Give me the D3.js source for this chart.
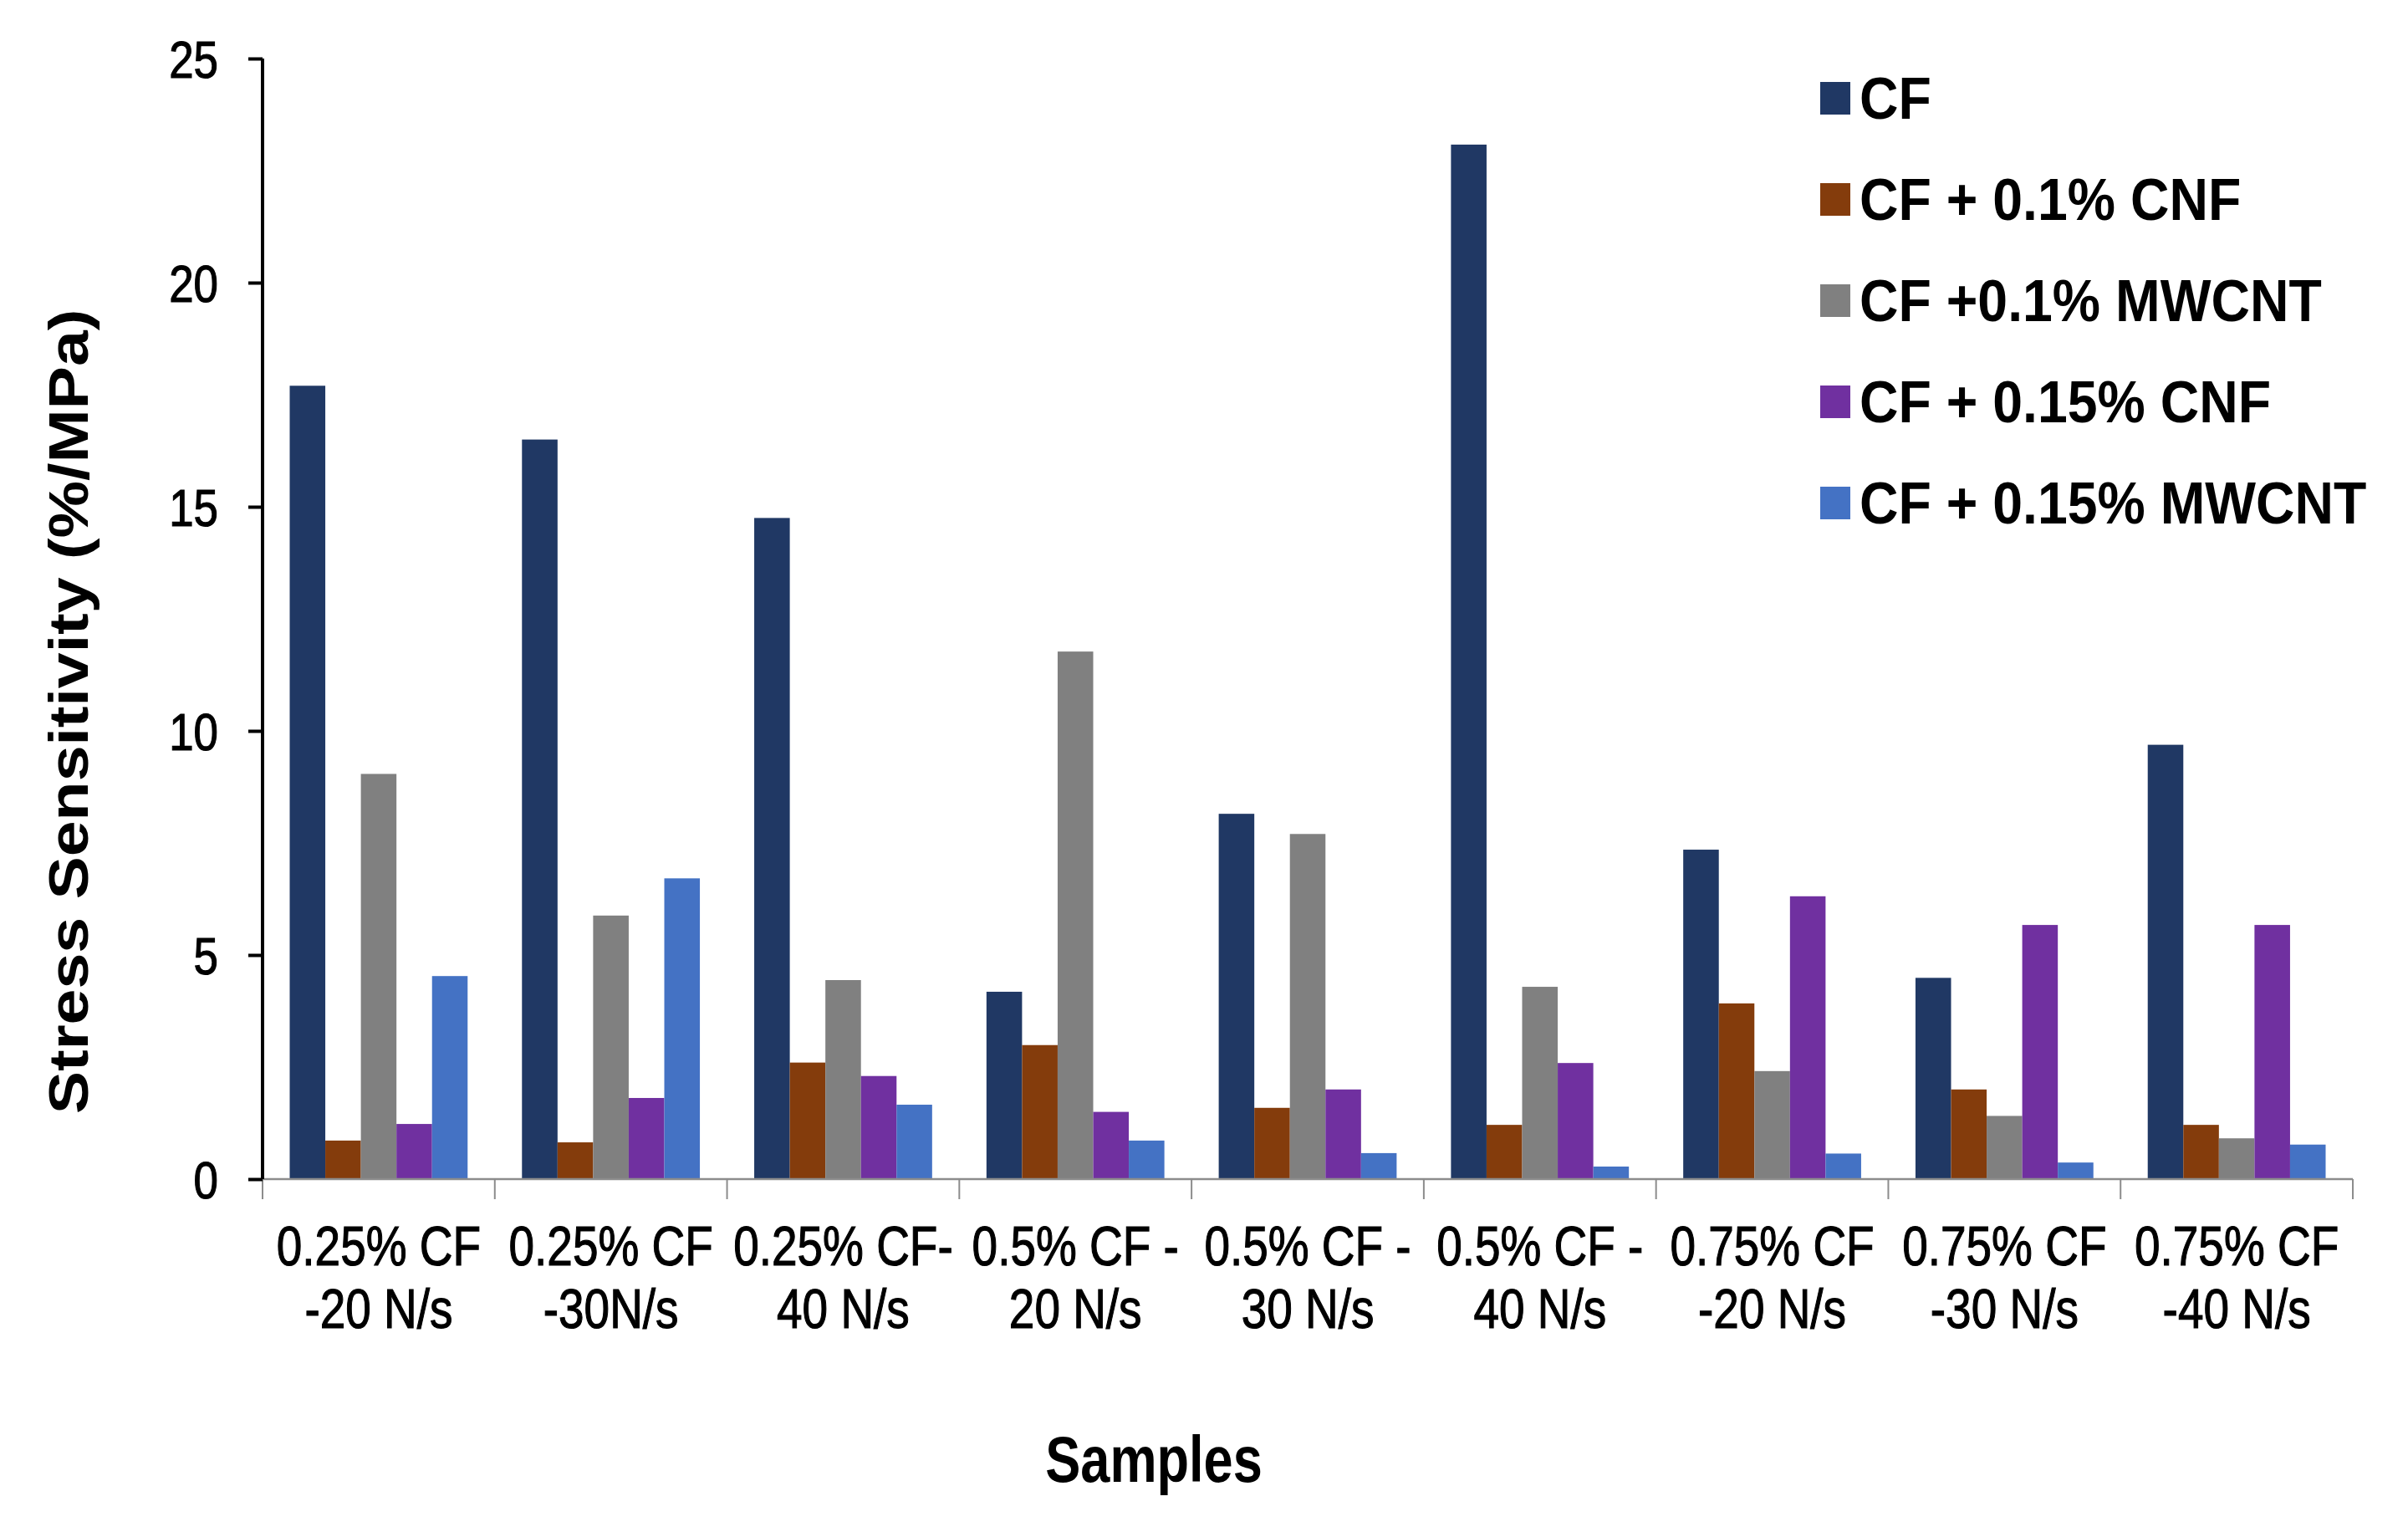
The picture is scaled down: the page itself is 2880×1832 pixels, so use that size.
<!DOCTYPE html>
<html>
<head>
<meta charset="utf-8">
<script src="https://cdn.jsdelivr.net/npm/d3@7"></script>
<style>
html,body{margin:0;padding:0;background:#fff;}
svg{display:block;}
text{font-family:"Liberation Sans",Arial,sans-serif;fill:#000;}
</style>
</head>
<body>
<svg id="chart" width="2880" height="1832"></svg>
<script>
const categories = [
  ["0.25% CF", "-20 N/s"],
  ["0.25% CF", "-30N/s"],
  ["0.25% CF-", "40 N/s"],
  ["0.5% CF -", "20 N/s"],
  ["0.5% CF -", "30 N/s"],
  ["0.5% CF -", "40 N/s"],
  ["0.75% CF", "-20 N/s"],
  ["0.75% CF", "-30 N/s"],
  ["0.75% CF", "-40 N/s"]
];
const seriesNames = ["CF", "CF + 0.1% CNF", "CF +0.1% MWCNT", "CF + 0.15% CNF", "CF + 0.15% MWCNT"];
const seriesColors = ["#203864", "#843C0C", "#808080", "#7030A0", "#4472C4"];
const cfValues       = [17.7, 16.5, 14.75, 4.18, 8.15, 23.08, 7.35, 4.49, 9.69];
const cnf01Values    = [0.86, 0.82, 2.6, 2.99, 1.59, 1.21, 3.92, 2.0, 1.21];
const mwcnt01Values  = [9.04, 5.88, 4.44, 11.77, 7.7, 4.29, 2.41, 1.41, 0.91];
const cnf015Values   = [1.23, 1.81, 2.3, 1.5, 2.0, 2.59, 6.31, 5.67, 5.67];
const mwcnt015Values = [4.53, 6.71, 1.66, 0.86, 0.58, 0.28, 0.57, 0.37, 0.77];
const yTicks = [0, 5, 10, 15, 20, 25];
const yTitle = "Stress Sensitivity (%/MPa)";
const xTitle = "Samples";

const seriesValues = [cfValues, cnf01Values, mwcnt01Values, cnf015Values, mwcnt015Values];

const svg = d3.select("#chart");
const plotLeft = 314, plotRight = 2814, plotTop = 70, plotBottom = 1410;

const x0 = d3.scaleBand().domain(d3.range(categories.length)).range([plotLeft, plotRight])
  .paddingInner(0.234).paddingOuter(0.117);
const x1 = d3.scaleBand().domain(d3.range(seriesNames.length)).range([0, x0.bandwidth()]).padding(0);
const y = d3.scaleLinear().domain([0, 25]).range([plotBottom, plotTop]);

// bars
const groups = svg.append("g").selectAll("g").data(categories).join("g")
  .attr("transform", (d, i) => `translate(${x0(i)},0)`);
groups.selectAll("rect")
  .data((d, i) => seriesValues.map((vals, s) => ({s, v: vals[i]})))
  .join("rect")
  .attr("x", d => x1(d.s))
  .attr("width", x1.bandwidth())
  .attr("y", d => y(d.v))
  .attr("height", d => y(0) - y(d.v))
  .attr("fill", d => seriesColors[d.s]);

// x axis line and boundary ticks
const xAxisG = svg.append("g");
xAxisG.append("line").attr("x1", plotLeft).attr("x2", plotRight).attr("y1", plotBottom).attr("y2", plotBottom)
  .attr("stroke", "#8c8c8c").attr("stroke-width", 2.5);
const bounds = d3.range(categories.length + 1).map(i => plotLeft + i * x0.step());
xAxisG.selectAll("line.b").data(bounds).join("line").attr("class", "b")
  .attr("x1", d => d).attr("x2", d => d).attr("y1", plotBottom).attr("y2", plotBottom + 24)
  .attr("stroke", "#8c8c8c").attr("stroke-width", 2);

// x labels
const labG = svg.append("g");
categories.forEach((c, i) => {
  const cx = x0(i) + x0.bandwidth() / 2;
  c.forEach((line, k) => {
    labG.append("text")
      .attr("transform", `translate(${cx},${1513 + k * 75}) scale(0.82,1)`)
      .attr("text-anchor", "middle")
      .attr("font-size", 67)
      .attr("stroke", "#000").attr("stroke-width", 1.2)
      .text(line);
  });
});

// y axis
const yAxis = d3.axisLeft(y).tickValues(yTicks).tickSize(17).tickPadding(0).tickFormat(d3.format("d"));
const yG = svg.append("g").attr("transform", `translate(${plotLeft},0)`).call(yAxis);
yG.select(".domain").attr("stroke", "#000").attr("stroke-width", 4)
  .attr("d", `M0,${plotTop}V${plotBottom}`);
yG.selectAll(".tick line").attr("stroke", "#000").attr("stroke-width", 4);
yG.selectAll(".tick text")
  .attr("x", null).attr("dy", null)
  .attr("transform", "translate(-53,22) scale(0.84,1)")
  .attr("text-anchor", "end")
  .attr("font-size", 63)
  .attr("fill", "#000")
  .attr("stroke", "#000").attr("stroke-width", 1.2)
  .style("font-family", '"Liberation Sans",Arial,sans-serif');

// axis titles
svg.append("text")
  .attr("transform", `translate(105,851) scale(0.87,1) rotate(-90)`)
  .attr("text-anchor", "middle")
  .attr("font-size", 77).attr("font-weight", "bold")
  .text(yTitle);
svg.append("text")
  .attr("transform", `translate(1380,1772) scale(0.82,1)`)
  .attr("text-anchor", "middle")
  .attr("font-size", 77).attr("font-weight", "bold")
  .text(xTitle);

// legend
const leg = svg.append("g");
seriesNames.forEach((name, i) => {
  const cy = 117 + i * 121;
  leg.append("rect").attr("x", 2177).attr("y", cy - 19).attr("width", 36).attr("height", 39)
    .attr("fill", seriesColors[i]);
  leg.append("text")
    .attr("transform", `translate(2224,${cy + 25}) scale(0.92,1)`)
    .attr("font-size", 70).attr("font-weight", "bold")
    .text(name);
});
</script>
</body>
</html>
